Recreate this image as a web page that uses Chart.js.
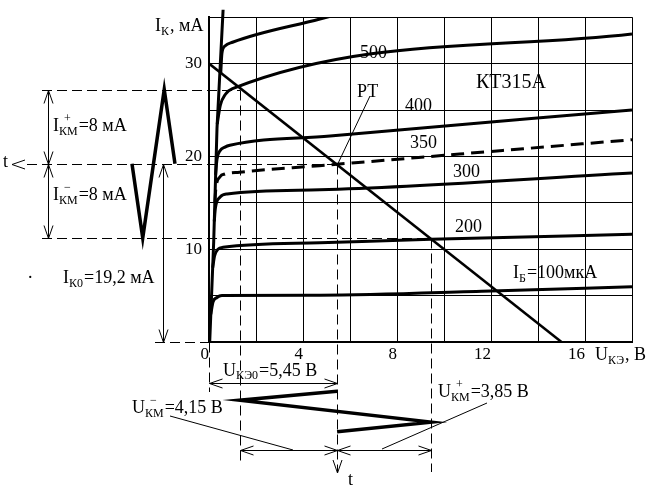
<!DOCTYPE html>
<html><head><meta charset="utf-8">
<script src="https://cdn.jsdelivr.net/npm/chart.js@4.4.1/dist/chart.umd.min.js"></script>
<style>html,body{margin:0;padding:0;background:#fff;}#wrap{width:653px;height:491px;}</style>
</head><body><div id="wrap"><canvas id="c" width="653" height="491"></canvas></div>
<script>
const F = '"Liberation Serif","Times New Roman",serif';

// axis tick labels
const xTickLabels = [0, 4, 8, 12, 16];
const yTickLabels = [10, 20, 30];

// steep (saturation) branch of the characteristics
const satU = [0.03, 0.2, 0.34, 0.6];
const satI = [0, 10.8, 23, 35.8];

// output characteristics I_K (mA) vs U_KE (V)
const ibTopU = [0.5, 0.55, 0.68, 1.0, 4.72, 8];
const ibTopI = [29.0, 31.1, 31.9, 32.3, 34.8, 37.0];
const ib500U = [0.35, 0.48, 0.7, 1.0, 18];
const ib500I = [23.5, 25.5, 26.7, 27.3, 33.2];
const ib400U = [0.28, 0.34, 0.47, 0.68, 0.89, 5.15, 18];
const ib400I = [18.0, 19.7, 20.6, 21.0, 21.2, 22.2, 25.0];
const ib350U = [0.25, 0.29, 0.47, 0.68, 1.3, 4.7, 18];
const ib350I = [15.0, 16.5, 17.8, 18.1, 18.3, 19.0, 21.8];
const ib300U = [0.225, 0.27, 0.47, 0.77, 4.72, 18];
const ib300I = [13.0, 14.4, 15.6, 15.96, 16.4, 18.2];
const ib200U = [0.156, 0.24, 0.38, 0.6, 4.72, 9.45, 18];
const ib200I = [8.0, 9.3, 10.0, 10.2, 10.7, 11.06, 11.6];
const ib100U = [0.077, 0.17, 0.34, 0.55, 4.72, 12, 18];
const ib100I = [3.0, 4.3, 4.8, 5.0, 5.05, 5.5, 5.95];

// load line
const loadU = [0, 15];
const loadI = [30, 0];

// operating point and swings
const U0 = 5.45, I0 = 19.2;
const iWaveT = [0, 0.25, 0.75, 1];
const iWaveI = [19.2, 27.2, 11.2, 19.2];
const uWaveT = [0, 0.22, 0.76, 1];
const uWaveU = [5.45, 1.3, 9.45, 5.45];

const pts = (xs, ys) => xs.map((v, i) => ({x: v, y: ys[i]}));
const curve = (xs, ys, extra) => Object.assign({
  data: pts(xs, ys), borderColor: '#000', borderWidth: 3, pointRadius: 0,
  cubicInterpolationMode: 'monotone', fill: false
}, extra || {});

function arrowHead(ctx, tx, ty, dx, dy, len, half) {
  len = len || 13; half = half || 4.5;
  const bx = tx - dx * len, by = ty - dy * len;
  const px = -dy * half, py = dx * half;
  ctx.beginPath(); ctx.moveTo(bx + px, by + py); ctx.lineTo(tx, ty); ctx.lineTo(bx - px, by - py); ctx.stroke();
}
function rich(ctx, x, y, parts, fs, subDy) {
  fs = fs || 18; const ss = 12; subDy = subDy || 4;
  let cx = x;
  for (const p of parts) {
    if (typeof p === 'string') {
      ctx.font = fs + 'px ' + F; ctx.fillText(p, cx, y); cx += ctx.measureText(p).width;
    } else {
      ctx.font = ss + 'px ' + F; let w = 0;
      if (p.sub) { ctx.fillText(p.sub, cx, y + subDy); w = Math.max(w, ctx.measureText(p.sub).width); }
      if (p.sup) { ctx.fillText(p.sup, cx + 5, y - 9); }
      cx += w + 1;
    }
  }
}

const overlay = {
  id: 'overlay',
  beforeDatasetsDraw(chart) {
    const ctx = chart.ctx, sx = chart.scales.x, sy = chart.scales.y;
    const X = v => Math.round(sx.getPixelForValue(v)) + 0.5, Y = v => Math.round(sy.getPixelForValue(v)) + 0.5;
    const iMax = Math.max(...iWaveI), iMin = Math.min(...iWaveI);
    const uMin = Math.min(...uWaveU), uMax = Math.max(...uWaveU);
    ctx.save();
    ctx.strokeStyle = '#000'; ctx.lineWidth = 1; ctx.setLineDash([10, 5]);
    const seg = (x1, y1, x2, y2) => { ctx.beginPath(); ctx.moveTo(x1, y1); ctx.lineTo(x2, y2); ctx.stroke(); };
    seg(42, Y(iMax), X(uMin), Y(iMax));
    seg(27, Y(I0), X(U0), Y(I0));
    seg(42, Y(iMin), X(uMax), Y(iMin));
    seg(155, Y(0), X(0), Y(0));
    seg(X(0), Y(0), X(0), 392);
    seg(X(uMin), Y(iMax), X(uMin), 462);
    seg(X(U0), Y(I0), X(U0), 472);
    seg(X(uMax), Y(iMin), X(uMax), 472);
    ctx.restore();
  },
  afterDatasetsDraw(chart) {
    const ctx = chart.ctx, sx = chart.scales.x, sy = chart.scales.y;
    const X = v => Math.round(sx.getPixelForValue(v)) + 0.5, Y = v => Math.round(sy.getPixelForValue(v)) + 0.5;
    const iMax = Math.max(...iWaveI), iMin = Math.min(...iWaveI);
    const uMin = Math.min(...uWaveU), uMax = Math.max(...uWaveU);
    ctx.save();
    ctx.strokeStyle = '#000'; ctx.fillStyle = '#000'; ctx.lineWidth = 1;
    const seg = (x1, y1, x2, y2) => { ctx.beginPath(); ctx.moveTo(x1, y1); ctx.lineTo(x2, y2); ctx.stroke(); };
    // current swing dimension
    seg(48.5, Y(iMax), 48.5, Y(iMin));
    arrowHead(ctx, 48.5, Y(iMax), 0, -1); arrowHead(ctx, 48.5, Y(I0), 0, 1);
    arrowHead(ctx, 48.5, Y(I0), 0, -1); arrowHead(ctx, 48.5, Y(iMin), 0, 1);
    // I_K0 dimension
    seg(163.5, Y(I0), 163.5, Y(0));
    arrowHead(ctx, 163.5, Y(I0), 0, -1); arrowHead(ctx, 163.5, Y(0), 0, 1);
    // U_KE0 dimension
    seg(X(0), 383.5, X(U0), 383.5);
    arrowHead(ctx, X(0), 383.5, -1, 0); arrowHead(ctx, X(U0), 383.5, 1, 0);
    // voltage swing dimension
    seg(X(uMin), 450.5, X(uMax), 450.5);
    arrowHead(ctx, X(uMin), 450.5, -1, 0); arrowHead(ctx, X(U0), 450.5, 1, 0);
    arrowHead(ctx, X(U0), 450.5, -1, 0); arrowHead(ctx, X(uMax), 450.5, 1, 0);
    // time arrows
    arrowHead(ctx, 12, Y(I0), -1, 0);
    arrowHead(ctx, X(U0), 473, 0, 1);
    // leader lines
    seg(370, 96, X(U0), Y(I0));
    seg(170, 416, 293, 450);
    seg(487, 403, 382, 449);
    // texts
    ctx.textBaseline = 'alphabetic'; ctx.textAlign = 'left';
    rich(ctx, 155, 31, ['I', {sub: 'К'}, ', мА']);
    rich(ctx, 595, 360, ['U', {sub: 'КЭ'}, ', В']);
    rich(ctx, 360, 58, ['500']);
    rich(ctx, 405, 111, ['400']);
    rich(ctx, 410, 148, ['350']);
    rich(ctx, 453, 177, ['300']);
    rich(ctx, 455, 232, ['200']);
    rich(ctx, 513, 278, ['I', {sub: 'Б'}, '=100мкА']);
    rich(ctx, 476, 88, ['КТ315А'], 20);
    rich(ctx, 357, 97, ['РТ']);
    rich(ctx, 53, 131, ['I', {sup: '+', sub: 'КМ'}, '=8 мА']);
    rich(ctx, 53, 200, ['I', {sup: '−', sub: 'КМ'}, '=8 мА']);
    rich(ctx, 63, 283, ['I', {sub: 'К0'}, '=19,2 мА']);
    rich(ctx, 28, 278, ['.']);
    rich(ctx, 223, 376, ['U', {sub: 'КЭ0'}, '=5,45 В'], 18, 3);
    rich(ctx, 132, 413, ['U', {sup: '−', sub: 'КМ'}, '=4,15 В']);
    rich(ctx, 438, 397, ['U', {sup: '+', sub: 'КМ'}, '=3,85 В']);
    rich(ctx, 3, 167, ['t']);
    rich(ctx, 348, 485, ['t']);
    ctx.restore();
  }
};

// time scales for the two signal sketches (placed outside the plot area)
function fixRange(lo, hi) { return s => { s.min = lo; s.max = hi; }; }

new Chart(document.getElementById('c'), {
  type: 'line',
  data: {
    datasets: [
      curve(satU, satI, {clip: false, cubicInterpolationMode: 'default', tension: 0}),
      curve(ibTopU, ibTopI),
      curve(ib500U, ib500I),
      curve(ib400U, ib400I),
      curve(ib350U, ib350I, {borderDash: [13, 7]}),
      curve(ib300U, ib300I),
      curve(ib200U, ib200I),
      curve(ib100U, ib100I),
      curve(loadU, loadI, {borderWidth: 2.5, cubicInterpolationMode: 'default', tension: 0}),
      curve(iWaveT, iWaveI, {xAxisID: 'tI', yAxisID: 'y', clip: false, borderWidth: 3.5, cubicInterpolationMode: 'default', tension: 0}),
      curve(uWaveU, uWaveT, {xAxisID: 'x', yAxisID: 'tU', clip: false, borderWidth: 3.5, cubicInterpolationMode: 'default', tension: 0})
    ]
  },
  options: {
    responsive: false, animation: false, devicePixelRatio: 1,
    layout: {padding: {left: 179, right: 21, top: 13, bottom: 124}},
    plugins: {legend: {display: false}, tooltip: {enabled: false}},
    scales: {
      x: {
        type: 'linear', min: 0, max: 18,
        afterFit(s) { s.height = 25; },
        ticks: {stepSize: 2, autoSkip: false, maxRotation: 0, padding: 2, align: 'end', color: '#000',
          font: {family: F, size: 17}, callback: v => xTickLabels.includes(v) ? String(v) : ''},
        grid: {color: '#000', lineWidth: 1, drawTicks: false},
        border: {display: true, color: '#000', width: 2}
      },
      y: {
        type: 'linear', min: 0, max: 35,
        afterFit(s) { s.width = 30; },
        ticks: {stepSize: 5, autoSkip: false, padding: 7, color: '#000',
          font: {family: F, size: 17}, callback: v => yTickLabels.includes(v) ? String(v) : ''},
        grid: {color: '#000', lineWidth: 1, drawTicks: false},
        border: {display: true, color: '#000', width: 2}
      },
      tI: {type: 'linear', axis: 'x', position: 'bottom', display: false, reverse: true, bounds: 'data',
           afterDataLimits: fixRange(-10.628, -0.791)},
      tU: {type: 'linear', axis: 'y', position: 'left', display: false, reverse: true, bounds: 'data',
           afterDataLimits: fixRange(-9.244, -1.2195)}
    }
  },
  plugins: [overlay]
});
</script></body></html>
